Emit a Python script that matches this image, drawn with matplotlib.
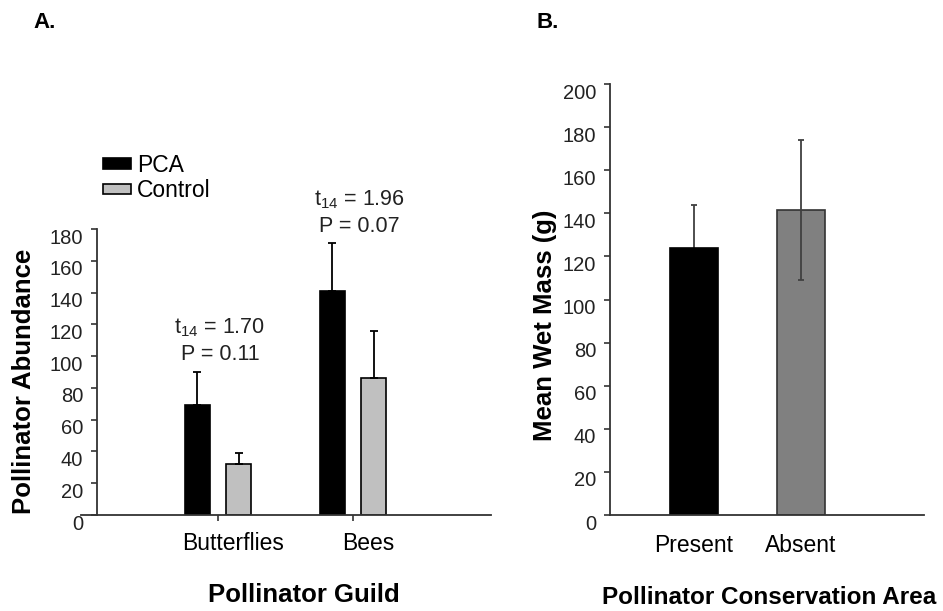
import matplotlib
matplotlib.use("Agg")
import matplotlib.pyplot as plt
import matplotlib.transforms as mtransforms
from matplotlib.patches import Rectangle
from matplotlib.legend_handler import HandlerPatch
from matplotlib.lines import Line2D

plt.rcParams['font.family'] = ['Liberation Sans', 'DejaVu Sans']
plt.rcParams['mathtext.fontset'] = 'custom'
plt.rcParams['mathtext.rm'] = 'Liberation Sans'
plt.rcParams['mathtext.it'] = 'Liberation Sans'

# ---- data ----
guilds = ["Butterflies", "Bees"]
pca_means = [69, 141]
pca_err = [21, 30]
control_means = [32, 86]
control_err = [7, 30]
series_names = ["PCA", "Control"]
t_labels = ["1.70", "1.96"]
p_labels = ["0.11", "0.07"]
a_yticks = [0, 20, 40, 60, 80, 100, 120, 140, 160, 180]

areas = ["Present", "Absent"]
mass_means = [124, 141.5]
mass_err = [20, 32.5]
b_yticks = [0, 20, 40, 60, 80, 100, 120, 140, 160, 180, 200]

W, H = 943, 611
fig = plt.figure(figsize=(W / 100, H / 100), dpi=100)

def frac_box(l, r, b, t):
    return [l / W, 1 - b / H, (r - l) / W, (b - t) / H]

TXT = '#222222'
SP = '#333333'

# ---------- Panel A ----------
axA = fig.add_axes(frac_box(97, 491, 515, 229))
xA = [0, 1]
off, bw = 0.154, 0.185
axA.bar([x - off for x in xA], pca_means, bw, color='black', edgecolor='black',
        linewidth=1.2, label=series_names[0], zorder=2)
axA.bar([x + off for x in xA], control_means, bw, color='#c0c0c0', edgecolor='black',
        linewidth=1.2, label=series_names[1], zorder=2)
axA.errorbar([x - off for x in xA], pca_means, yerr=[[0, 0], pca_err], fmt='none',
             ecolor='black', elinewidth=1.3, capsize=2.9, capthick=1.3, zorder=3)
axA.errorbar([x + off for x in xA], control_means, yerr=[[0, 0], control_err], fmt='none',
             ecolor='black', elinewidth=1.3, capsize=2.9, capthick=1.3, zorder=3)
axA.set_xlim(-0.896, 2.022)
axA.set_ylim(0, 180)
axA.set_yticks(a_yticks)
axA.set_xticks(xA)
axA.set_xticklabels(guilds, fontsize=16.5, color='black')
for s in ['top', 'right']:
    axA.spines[s].set_visible(False)
for s in ['left', 'bottom']:
    axA.spines[s].set_color(SP)
    axA.spines[s].set_linewidth(1.3)
axA.tick_params(axis='y', direction='out', length=4, width=1.2, color=SP, pad=6,
                labelsize=14.5, labelcolor=TXT)
axA.tick_params(axis='x', direction='out', length=4, width=1.2, color=SP, pad=8)
axA.add_line(Line2D([-16 / 394, 0], [0, 0], transform=axA.transAxes, color=SP,
                    lw=1.3, clip_on=False))

# annotations
ann_x = [0.015, 1.05]
ann_t_y = [114.5, 195]
ann_p_y = [97.5, 178.4]
for i in range(2):
    axA.text(ann_x[i], ann_t_y[i], r'$\mathregular{t_{14}}$ = ' + t_labels[i],
             ha='center', va='baseline', fontsize=15.5, color=TXT, clip_on=False)
    axA.text(ann_x[i], ann_p_y[i], 'P = ' + p_labels[i],
             ha='center', va='baseline', fontsize=15.5, color=TXT, clip_on=False)

def shifted_rect(legend, orig_handle, xdescent, ydescent, width, height, fontsize):
    return Rectangle((-xdescent, -ydescent + 3.6), width, height)

leg = axA.legend(loc='upper left', bbox_to_anchor=(103 / W, 1 - 154 / H),
                 bbox_transform=fig.transFigure, frameon=False, fontsize=16.5,
                 handlelength=1.22, handleheight=0.35, handletextpad=0.25,
                 borderpad=0, borderaxespad=0, labelspacing=0.1,
                 handler_map={Rectangle: HandlerPatch(patch_func=shifted_rect)})
for t in leg.get_texts():
    t.set_color('black')

fig.text(24 / W, 1 - 381 / H, 'Pollinator Abundance', rotation=90, ha='center',
         va='center', fontsize=18.5, fontweight='bold')
fig.text(304 / W, 1 - 595 / H, 'Pollinator Guild', ha='center', va='center',
         fontsize=18.5, fontweight='bold')
fig.text(33 / W, 1 - 28 / H, 'A.', ha='left', va='baseline', fontsize=16,
         fontweight='bold')

# ---------- Panel B ----------
axB = fig.add_axes(frac_box(610, 924, 515, 84))
xB = [0, 1]
axB.bar(xB, mass_means, 0.44, color=['black', '#808080'], edgecolor=['black', '#333333'],
        linewidth=1.2, zorder=2)
# first error bar sits behind its black bar, second one on top of its grey bar
axB.errorbar(xB[:1], mass_means[:1], yerr=mass_err[:1], fmt='none', ecolor='#404040',
             elinewidth=1.3, capsize=2.2, capthick=1.3, zorder=1.5)
axB.errorbar(xB[1:], mass_means[1:], yerr=mass_err[1:], fmt='none', ecolor='#404040',
             elinewidth=1.3, capsize=2.2, capthick=1.3, zorder=3)
axB.set_xlim(-0.785, 2.15)
axB.set_ylim(0, 200)
axB.set_yticks(b_yticks)
axB.set_xticks(xB)
axB.set_xticklabels(areas, fontsize=16.5, color='black')
for s in ['top', 'right']:
    axB.spines[s].set_visible(False)
for s in ['left', 'bottom']:
    axB.spines[s].set_color(SP)
    axB.spines[s].set_linewidth(1.3)
axB.tick_params(axis='y', direction='out', length=4, width=1.2, color=SP, pad=6,
                labelsize=14.5, labelcolor=TXT)
axB.tick_params(axis='x', length=0, pad=14)

fig.text(545 / W, 1 - 325 / H, 'Mean Wet Mass (g)', rotation=90, ha='center',
         va='center', fontsize=18.5, fontweight='bold')
fig.text(769 / W, 1 - 598 / H, 'Pollinator Conservation Area', ha='center',
         va='center', fontsize=17.5, fontweight='bold')
fig.text(537 / W, 1 - 28 / H, 'B.', ha='left', va='baseline', fontsize=16,
         fontweight='bold')

# shift y tick labels slightly downward, x labels of A slightly right
down = mtransforms.ScaledTranslation(0, -7 / 100, fig.dpi_scale_trans)
for ax in (axA, axB):
    for tk in ax.yaxis.get_major_ticks():
        tk.label1.set_transform(tk.label1.get_transform() + down)
right = mtransforms.ScaledTranslation(15 / 100, 0, fig.dpi_scale_trans)
for tk in axA.xaxis.get_major_ticks():
    tk.label1.set_transform(tk.label1.get_transform() + right)

fig.savefig('out.png', dpi=100)
